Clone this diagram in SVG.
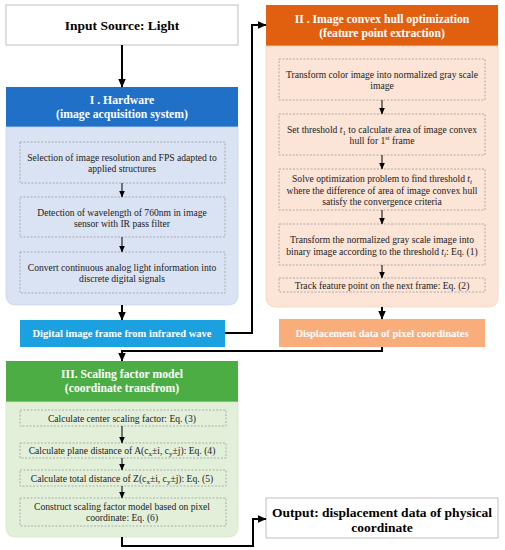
<svg xmlns="http://www.w3.org/2000/svg" width="505" height="550" viewBox="0 0 505 550">
<defs>
<marker id="ah" markerUnits="userSpaceOnUse" markerWidth="9" markerHeight="8" refX="8.5" refY="4" orient="auto"><path d="M0,0 L9,4 L0,8 Z" fill="#000"/></marker>
<marker id="as" markerUnits="userSpaceOnUse" markerWidth="7" markerHeight="6" refX="6.5" refY="3" orient="auto"><path d="M0,0 L7,3 L0,6 Z" fill="#000"/></marker>
<style>
text{font-family:"Liberation Serif","Times New Roman",serif;text-anchor:middle}
.hd{font-weight:bold;font-size:11.7px;fill:#fff}
.big{font-weight:bold;font-size:13.5px;fill:#000}
.in{font-size:9.6px;fill:#222}
.bar{font-weight:bold;font-size:10.5px;fill:#fff}
.db{fill:none;stroke:#a6a6a6;stroke-width:0.9;stroke-dasharray:2,1.5}
.wl{fill:#fff;stroke:#bfbfbf;stroke-width:1}
.c{fill:none;stroke:#000;stroke-width:2}
.ci{fill:none;stroke:#000;stroke-width:1}
</style>
</defs>

<g id="input">
<rect class="wl" x="6" y="5" width="232" height="40"/>
<text class="big" x="122" y="30">Input Source: Light</text>
</g>

<g id="hardware">
<rect x="6" y="87" width="232" height="40" fill="#1f70c6"/>
<text class="hd" x="122" y="104">I . Hardware</text>
<text class="hd" x="122" y="118">(image acquisition system)</text>
<path d="M6,127 H238 V295 Q238,305 228,305 H16 Q6,305 6,295 Z" fill="#dae3f3" stroke="#c9d6ee" stroke-width="0.8"/>
</g>
<g id="hw1"><rect class="db" x="20" y="142" width="205" height="41"/>
<text class="in" x="122" y="160.5">Selection of image resolution and FPS adapted to</text>
<text class="in" x="122" y="171.5">applied structures</text></g>
<g id="hw2"><rect class="db" x="20" y="197" width="205" height="40"/>
<text class="in" x="122" y="215.5">Detection of wavelength of 760nm in image</text>
<text class="in" x="122" y="226.5">sensor with IR pass filter</text></g>
<g id="hw3"><rect class="db" x="20" y="252" width="205" height="41"/>
<text class="in" x="122" y="270.5">Convert continuous analog light information into</text>
<text class="in" x="122" y="281.5">discrete digital signals</text></g>

<g id="digital">
<rect x="20" y="320" width="205" height="27" fill="#1ba1e0"/>
<text class="bar" x="122" y="337">Digital image frame from infrared wave</text>
</g>

<g id="optimization">
<rect x="266" y="5" width="232" height="41" fill="#e1600f"/>
<text class="hd" x="382" y="23">II . Image convex hull optimization</text>
<text class="hd" x="382" y="37">(feature point extraction)</text>
<path d="M266,46 H498 V297 Q498,307 488,307 H276 Q266,307 266,297 Z" fill="#fce4d6" stroke="#f5d3bd" stroke-width="0.8"/>
</g>
<g id="op1"><rect class="db" x="279" y="59" width="206" height="41"/>
<text class="in" x="382" y="77.5">Transform color image into normalized gray scale</text>
<text class="in" x="382" y="89">image</text></g>
<g id="op2"><rect class="db" x="279" y="114" width="206" height="41"/>
<text class="in" x="382" y="132.5">Set threshold <tspan font-style="italic">t</tspan><tspan font-size="7" dy="2">1</tspan><tspan dy="-2"> to calculate area of image convex</tspan></text>
<text class="in" x="382" y="144">hull for 1<tspan font-size="6.5" dy="-4">st</tspan><tspan dy="4"> frame</tspan></text></g>
<g id="op3"><rect class="db" x="279" y="169" width="206" height="41"/>
<text class="in" x="382" y="181.5">Solve optimization problem to find threshold <tspan font-style="italic">t</tspan><tspan font-size="7" dy="2" font-style="italic">i</tspan></text>
<text class="in" x="382" y="193.5">where the difference of area of image convex hull</text>
<text class="in" x="382" y="205">satisfy the convergence criteria</text></g>
<g id="op4"><rect class="db" x="279" y="224" width="206" height="41"/>
<text class="in" x="382" y="242.5">Transform the normalized gray scale image into</text>
<text class="in" x="382" y="254.5">binary image according to the threshold <tspan font-style="italic">t</tspan><tspan font-size="7" dy="2" font-style="italic">i</tspan><tspan dy="-2">: Eq. (1)</tspan></text></g>
<g id="op5"><rect class="db" x="279" y="278" width="206" height="14"/>
<text class="in" x="382" y="289">Track feature point on the next frame: Eq. (2)</text></g>

<g id="displacement">
<rect x="279" y="319" width="206" height="28" fill="#f9ad7a"/>
<text class="bar" x="382" y="337">Displacement data of pixel coordinates</text>
</g>

<g id="scaling">
<rect x="6" y="361" width="232" height="41" fill="#4bad43"/>
<text class="hd" x="122" y="378">III. Scaling factor model</text>
<text class="hd" x="122" y="392">(coordinate transfrom)</text>
<path d="M6,402 H238 V527 Q238,537 228,537 H16 Q6,537 6,527 Z" fill="#e2f0d9" stroke="#d2e6c5" stroke-width="0.8"/>
</g>
<g id="sc1"><rect class="db" x="20" y="410" width="206" height="16"/>
<text class="in" x="122" y="421.5">Calculate center scaling factor: Eq. (3)</text></g>
<g id="sc2"><rect class="db" x="20" y="443" width="206" height="15"/>
<text class="in" x="122" y="454">Calculate plane distance of A(c<tspan font-size="7" dy="2">x</tspan><tspan dy="-2">±i, c</tspan><tspan font-size="7" dy="2">y</tspan><tspan dy="-2">±j): Eq. (4)</tspan></text></g>
<g id="sc3"><rect class="db" x="20" y="470" width="206" height="16"/>
<text class="in" x="122" y="481.5">Calculate total distance of Z(c<tspan font-size="7" dy="2">x</tspan><tspan dy="-2">±i, c</tspan><tspan font-size="7" dy="2">y</tspan><tspan dy="-2">±j): Eq. (5)</tspan></text></g>
<g id="sc4"><rect class="db" x="20" y="498" width="206" height="28"/>
<text class="in" x="122" y="510">Construct scaling factor model based on pixel</text>
<text class="in" x="122" y="521">coordinate: Eq. (6)</text></g>

<g id="output">
<rect class="wl" x="266" y="498" width="232" height="40"/>
<text class="big" x="382" y="516.5">Output: displacement data of physical</text>
<text class="big" x="382" y="532">coordinate</text>
</g>

<g id="connectors">
<path class="c" d="M122,45 V87" marker-end="url(#ah)"/>
<path class="c" d="M122,305 V320" marker-end="url(#ah)"/>
<path class="c" d="M225,333 H252 V25 H266" marker-end="url(#ah)"/>
<path class="c" d="M382,307 V319" marker-end="url(#ah)"/>
<path class="c" d="M382,347 V351 H122 V361" marker-end="url(#ah)"/>
<path class="c" d="M122,537 V546 H253 V519 H266" marker-end="url(#ah)"/>
<path class="ci" d="M122,183 V197" marker-end="url(#as)"/>
<path class="ci" d="M122,237 V252" marker-end="url(#as)"/>
<path class="ci" d="M382,100 V114" marker-end="url(#as)"/>
<path class="ci" d="M382,155 V169" marker-end="url(#as)"/>
<path class="ci" d="M382,210 V224" marker-end="url(#as)"/>
<path class="ci" d="M382,265 V278" marker-end="url(#as)"/>
<path class="ci" d="M122,426 V443" marker-end="url(#as)"/>
<path class="ci" d="M122,458 V470" marker-end="url(#as)"/>
<path class="ci" d="M122,486 V498" marker-end="url(#as)"/>
</g>
</svg>
